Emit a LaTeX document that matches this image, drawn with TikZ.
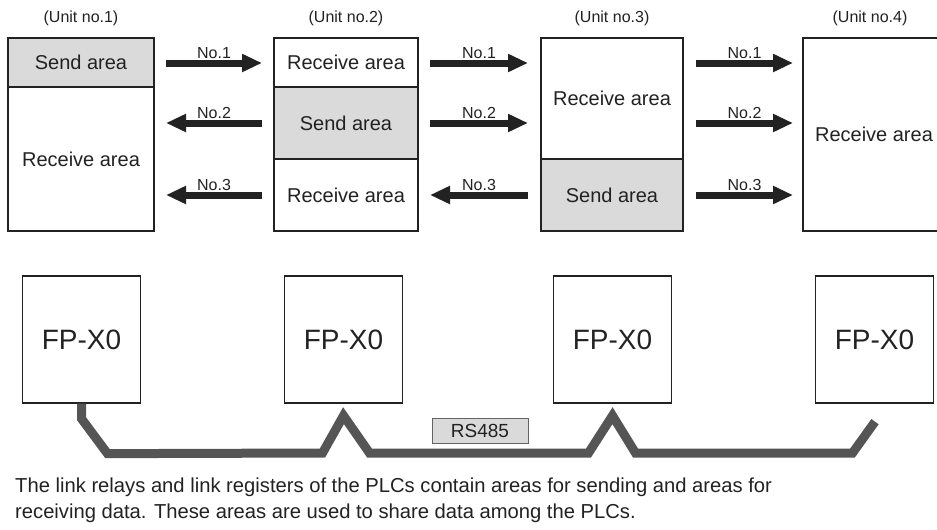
\documentclass[tikz,border=0pt]{standalone}
\usepackage{fontspec}
\setmainfont{Liberation Sans}
\usetikzlibrary{arrows.meta,positioning,calc}
\definecolor{plcInk}{HTML}{222222}
\definecolor{plcShade}{HTML}{DADADA}
\definecolor{plcCable}{HTML}{555555}
\tikzset{
  area/.style={draw=plcInk, line width=1.3pt, fill=white, text=plcInk, outer sep=0pt,
              inner sep=0pt, font=\fontsize{20}{22}\selectfont},
  sendarea/.style={area, fill=plcShade},
  unitlbl/.style={font=\fontsize{16}{18}\selectfont, text=plcInk, inner sep=0pt},
  numlbl/.style={font=\fontsize{16}{18}\selectfont, text=plcInk, inner sep=0pt, anchor=south},
  link/.style={draw=plcInk, line width=7pt, -{Triangle[length=20pt,width=17pt]}},
  plc/.style={draw=plcInk, line width=1.3pt, minimum width=118pt, minimum height=127pt,
              inner sep=0pt, text=plcInk, font=\fontsize{28}{30}\selectfont},
  cable/.style={draw=plcCable, line width=9pt},
  tag/.style={draw=plcInk!70, fill=plcShade, line width=0.8pt, minimum width=96pt,
              minimum height=25pt, inner sep=0pt, text=plcInk, font=\fontsize{19}{20}\selectfont},
  note/.style={font=\fontsize{20.2}{26}\selectfont, text=plcInk, align=left,
              anchor=north west, inner sep=0pt},
}

\begin{document}
\begin{tikzpicture}[x=1pt,y=-1pt]
  \useasboundingbox[fill=white] (0,0) rectangle (937,530);
  \node[unitlbl] (u1) at (81,18) {(Unit no.1)};
  \node[unitlbl] (u2) at (346,18) {(Unit no.2)};
  \node[unitlbl] (u3) at (612,18) {(Unit no.3)};
  \node[unitlbl] (u4) at (870,18) {(Unit no.4)};
  \node[sendarea,minimum width=146pt,minimum height=49pt] (s1) at (81,62.5) {Send area};
  \node[area,minimum width=146pt,minimum height=144pt,below=0pt of s1] (r1) {Receive area};
  \node[area,minimum width=144pt,minimum height=49pt] (r2a) at (346,62.5) {Receive area};
  \node[sendarea,minimum width=144pt,minimum height=72pt,below=0pt of r2a] (s2) {Send area};
  \node[area,minimum width=144pt,minimum height=72pt,below=0pt of s2] (r2b) {Receive area};
  \node[area,minimum width=142pt,minimum height=121pt] (r3) at (612,98.5) {Receive area};
  \node[sendarea,minimum width=142pt,minimum height=72pt,below=0pt of r3] (s3) {Send area};
  \node[area,minimum width=142pt,minimum height=193pt] (r4) at (874,134.5) {Receive area};
  \foreach \g/\xa/\xb in {1/166/262,2/430/528,3/696/793}{
    \foreach \r/\y in {1/63,2/123,3/195}{
      \coordinate (a\g\r) at (\xa,\y);
      \coordinate (b\g\r) at (\xb,\y);
    }
  }
  \foreach \s/\t/\n in {a11/b11/1,b12/a12/2,b13/a13/3,a21/b21/1,a22/b22/2,b23/a23/3,
                        a31/b31/1,a32/b32/2,a33/b33/3}{
    \draw[link] (\s) -- (\t);
    \node[numlbl,yshift=4pt] at ($(\s)!0.5!(\t)$) {No.\n};
  }
  \node[plc] (p1) at (81.5,339.5) {FP-X0};
  \node[plc] (p2) at (343.5,339.5) {FP-X0};
  \node[plc] (p3) at (612.5,339.5) {FP-X0};
  \node[plc] (p4) at (874.5,339.5) {FP-X0};
  \coordinate (bus) at (0,453);
  \coordinate (tail) at ([xshift=0.5pt,yshift=-18pt]p4.south);
  \draw[cable] (p1.south) -- ++(0,15) -- ++(26,35)
    -- ([xshift=-21pt]p2.south |- bus) -- ([yshift=-12pt]p2.south)
    -- ([xshift=26pt]p2.south |- bus) -- ([xshift=-24pt]p3.south |- bus)
    -- ([yshift=-12pt]p3.south) -- ([xshift=23pt]p3.south |- bus)
    -- ([xshift=-22pt]p4.south |- bus) -- (tail);
  \node[tag] (rs) at (480,430.5) {RS485};
  \node[note] (cap) at (15,478) {The link relays and link registers of the PLCs contain areas for sending and areas for\\
    receiving data. These areas are used to share data among the PLCs.};
\end{tikzpicture}
\end{document}
